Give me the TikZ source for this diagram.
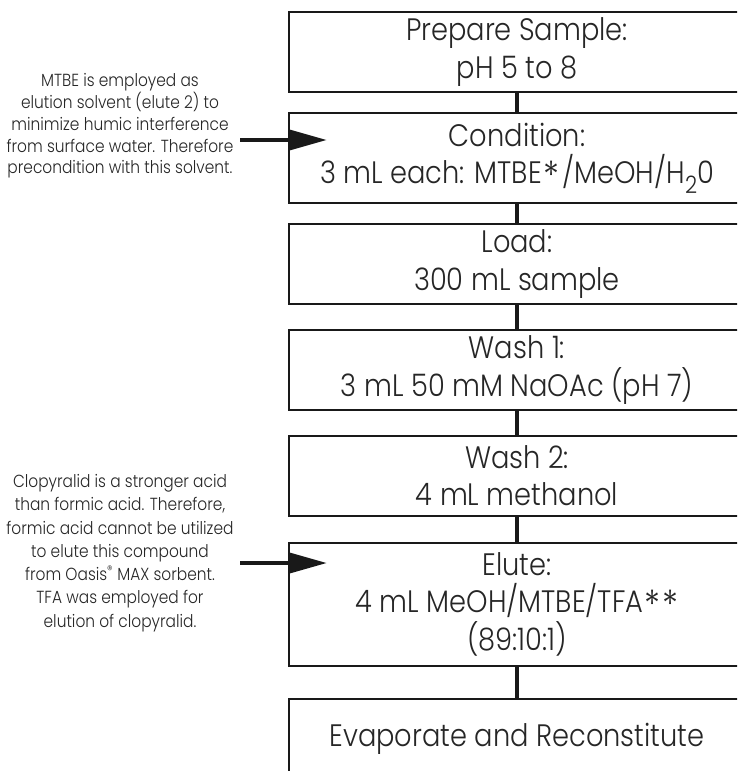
\documentclass[tikz,border=0pt]{standalone}
\usepackage{graphicx}
\usepackage{fontspec}
\setmainfont{Poppins}[UprightFont=* Light, FakeStretch=0.88]
\usetikzlibrary{arrows.meta}
\newcommand{\midast}{\kern0.05em\raisebox{-0.18em}{\scalebox{1.25}{*}}}
\begin{document}
\begin{tikzpicture}[x=1pt,y=-1pt,
  stepbox/.style={draw=black!90, line width=2pt, minimum width=456pt, inner sep=0pt,
    align=center, font=\fontsize{31}{37.5}\selectfont, text=black!85},
  note/.style={align=center, inner sep=0pt, text=black!85},
  conn/.style={line width=4.5pt, draw=black!90},
  pointer/.style={line width=4.5pt, draw=black!90, -{Triangle[length=38pt,width=20pt]}}]
\useasboundingbox (0,0) rectangle (737,771);
\clip (0,0) rectangle (737,771);
\fill[white] (0,0) rectangle (737,771);
\node[stepbox, minimum height=80pt] (b1) at (517,52) {Prepare Sample:\\pH 5 to 8};
\node[stepbox, minimum height=90pt] (b2) at (517,158) {Condition:\\3 mL each: MTBE\midast\kern0.1em/MeOH/H\raisebox{-0.3em}{\fontsize{24}{24}\selectfont 2}0};
\node[stepbox, minimum height=80pt] (b3) at (517,264) {Load:\\300 mL sample};
\node[stepbox, minimum height=80pt] (b4) at (517,370) {Wash 1:\\3 mL 50 mM NaOAc (pH 7)};
\node[stepbox, minimum height=80pt] (b5) at (517,475.5) {Wash 2:\\4 mL methanol};
\node[stepbox, minimum height=123pt] (b6) at (517,604) {Elute:\\4 mL MeOH/MTBE/TFA\midast\midast\\(89:10:1)};
\node[stepbox, minimum height=80pt] (b7) at (517,739) {Evaporate and Reconstitute};
\draw[conn] (b1) -- (b2);
\draw[conn] (b2) -- (b3);
\draw[conn] (b3) -- (b4);
\draw[conn] (b4) -- (b5);
\draw[conn] (b5) -- (b6);
\draw[conn] (b6) -- (b7);
\node[note, font=\fontsize{17.5}{21.7}\selectfont] (n1) at (120,126) {MTBE is employed as\\elution solvent (elute 2) to\\minimize humic interference\\from surface water. Therefore\\precondition with this solvent.};
\node[note, font=\fontsize{17.5}{23.3}\selectfont] (n2) at (120,553) {Clopyralid is a stronger acid\\than formic acid. Therefore,\\formic acid cannot be utilized\\to elute this compound\\from Oasis\textsuperscript{®} MAX sorbent.\\TFA was employed for\\elution of clopyralid.};
\coordinate (s1) at (240,140);
\coordinate (t1) at (327,140);
\coordinate (s2) at (240,563);
\coordinate (t2) at (327,563);
\draw[pointer] (s1) -- (t1);
\draw[pointer] (s2) -- (t2);
\end{tikzpicture}
\end{document}
